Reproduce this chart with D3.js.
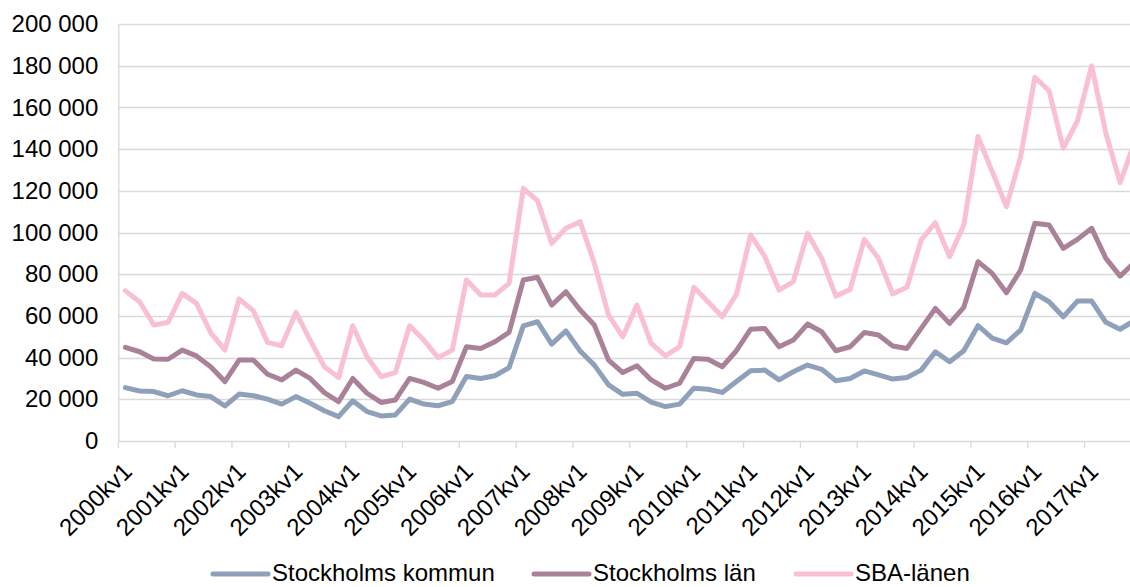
<!DOCTYPE html>
<html>
<head>
<meta charset="utf-8">
<script src="https://cdn.jsdelivr.net/npm/d3@7"></script>
<style>
  html, body { margin: 0; padding: 0; background: #fff; }
  svg { display: block; }
  text { font-family: "Liberation Sans", Arial, sans-serif; fill: #000; }
</style>
</head>
<body>
<svg id="chart" width="1130" height="587"></svg>
<script>
const years = [2000,2001,2002,2003,2004,2005,2006,2007,2008,2009,2010,2011,2012,2013,2014,2015,2016,2017];
const quarters = ["kv1","kv2","kv3","kv4"];
const categories = years.flatMap(y => quarters.map(q => y + q));
const tickLabels = years.map(y => y + "kv1");
const yTicks = [0,20000,40000,60000,80000,100000,120000,140000,160000,180000,200000];

const stockholmsKommun = [
  25600, 24000, 23700, 21700, 24100, 22100, 21300, 16800, 22500, 21700, 20100, 17700,
  21300, 18100, 14500, 11700, 19300, 14100, 12000, 12500, 20100, 17700, 16900, 18900,
  30900, 30000, 31300, 35200, 55200, 57200, 46500, 52800, 43200, 36400, 26900, 22400,
  22900, 18600, 16500, 17700, 25300, 24800, 23300, 28500, 33700, 34000, 29300, 33200,
  36400, 34400, 28900, 30000, 33600, 31700, 29700, 30500, 34000, 42800, 38000, 43300,
  55300, 49300, 47100, 53200, 70800, 66800, 59600, 67100, 67100, 56900, 53600, 57700
];
const stockholmsLan = [
  44900, 42800, 39300, 39200, 43600, 40800, 35600, 28500, 38800, 38800, 32000, 29300,
  34000, 30000, 23200, 18900, 30000, 22900, 18500, 19700, 30000, 28100, 25300, 28500,
  45200, 44400, 47600, 52100, 77200, 78500, 65200, 71600, 62800, 55600, 38800, 32800,
  36100, 29300, 25300, 27700, 39600, 39200, 35600, 43300, 53600, 54000, 45200, 48400,
  56100, 52400, 43300, 45200, 52000, 50800, 45600, 44400, 54000, 63600, 56400, 64100,
  86000, 80400, 71100, 82000, 104400, 103600, 92400, 96700, 102000, 87600, 79100, 85600
];
const sbaLanen = [
  72000, 66800, 55600, 56900, 70800, 66000, 52000, 43600, 68100, 62500, 47300, 45700,
  61700, 48400, 35600, 30400, 55300, 40400, 30900, 32800, 55300, 48400, 40000, 43600,
  77200, 70000, 70000, 75600, 121200, 115300, 94800, 102000, 105200, 85200, 60400, 50000,
  65200, 46800, 40800, 45200, 73700, 66800, 59600, 70300, 98800, 88400, 72400, 76400,
  99600, 87600, 69500, 72700, 96700, 87600, 70500, 73700, 96400, 104700, 88400, 103600,
  146000, 129200, 112400, 136400, 174400, 168000, 140400, 153600, 179900, 147600, 123900, 143000
];
const seriesNames = ["Stockholms kommun", "Stockholms län", "SBA-länen"];
const seriesColors = ["#8ea0ba", "#a9829a", "#f9bfd3"];
const seriesData = [stockholmsKommun, stockholmsLan, sbaLanen];

const svg = d3.select("#chart");
const mLeft = 118.3, mTop = 24, mBottom = 441;
const qw = 14.21;
const x = d3.scaleBand().domain(categories).range([mLeft, mLeft + categories.length * qw]).padding(0);
const y = d3.scaleLinear().domain([0, 200000]).range([mBottom, mTop]);
const fmt = v => d3.format(",")(v).replace(/,/g, " ");

// gridlines
svg.append("g").selectAll("line").data(yTicks.filter(d => d > 0)).join("line")
  .attr("x1", mLeft).attr("x2", 1130)
  .attr("y1", d => Math.round(y(d)) + 0.5).attr("y2", d => Math.round(y(d)) + 0.5)
  .attr("stroke", "#d9d9d9").attr("stroke-width", 1.3);

// y axis
const yAxis = d3.axisLeft(y).tickValues(yTicks).tickFormat(fmt).tickSize(0).tickPadding(20);
const gy = svg.append("g").attr("transform", `translate(${mLeft},0)`).call(yAxis);
gy.select(".domain").attr("stroke", "#d9d9d9").attr("stroke-width", 1.3);
gy.selectAll("text").attr("font-size", 24).attr("font-family", "Liberation Sans, Arial, sans-serif").attr("fill", "#000");

// x axis line + ticks at year boundaries
svg.append("line").attr("x1", mLeft).attr("x2", 1130).attr("y1", mBottom + 0.5).attr("y2", mBottom + 0.5)
  .attr("stroke", "#d9d9d9").attr("stroke-width", 1.3);
svg.append("g").selectAll("line").data(tickLabels).join("line")
  .attr("x1", d => x(d)).attr("x2", d => x(d))
  .attr("y1", mBottom).attr("y2", mBottom + 7)
  .attr("stroke", "#d9d9d9").attr("stroke-width", 1.3);

// x labels
svg.append("g").selectAll("text").data(tickLabels).join("text")
  .attr("transform", d => `translate(${x(d) + x.bandwidth() / 2 + 8},${mBottom + 32}) rotate(-45)`)
  .attr("text-anchor", "end")
  .attr("font-size", 24)
  .text(d => d);

// lines
const line = d3.line().x((d, i) => x(categories[i]) + x.bandwidth() / 2).y(d => y(d));
svg.append("defs").append("clipPath").attr("id", "clip")
  .append("rect").attr("x", mLeft).attr("y", 0).attr("width", 1130 - mLeft).attr("height", 587);
const gl = svg.append("g").attr("clip-path", "url(#clip)");
seriesData.forEach((data, k) => {
  gl.append("path").datum(data)
    .attr("d", line)
    .attr("fill", "none")
    .attr("stroke", seriesColors[k])
    .attr("stroke-width", 5)
    .attr("stroke-linejoin", "round")
    .attr("stroke-linecap", "round");
});

// legend
const legendX = [213, 534, 796];
const lg = svg.append("g");
seriesNames.forEach((name, k) => {
  lg.append("line").attr("x1", legendX[k]).attr("x2", legendX[k] + 55)
    .attr("y1", 574).attr("y2", 574)
    .attr("stroke", seriesColors[k]).attr("stroke-width", 5).attr("stroke-linecap", "round");
  lg.append("text").attr("x", legendX[k] + 59).attr("y", 581).attr("font-size", 24).text(name);
});
</script>
</body>
</html>
